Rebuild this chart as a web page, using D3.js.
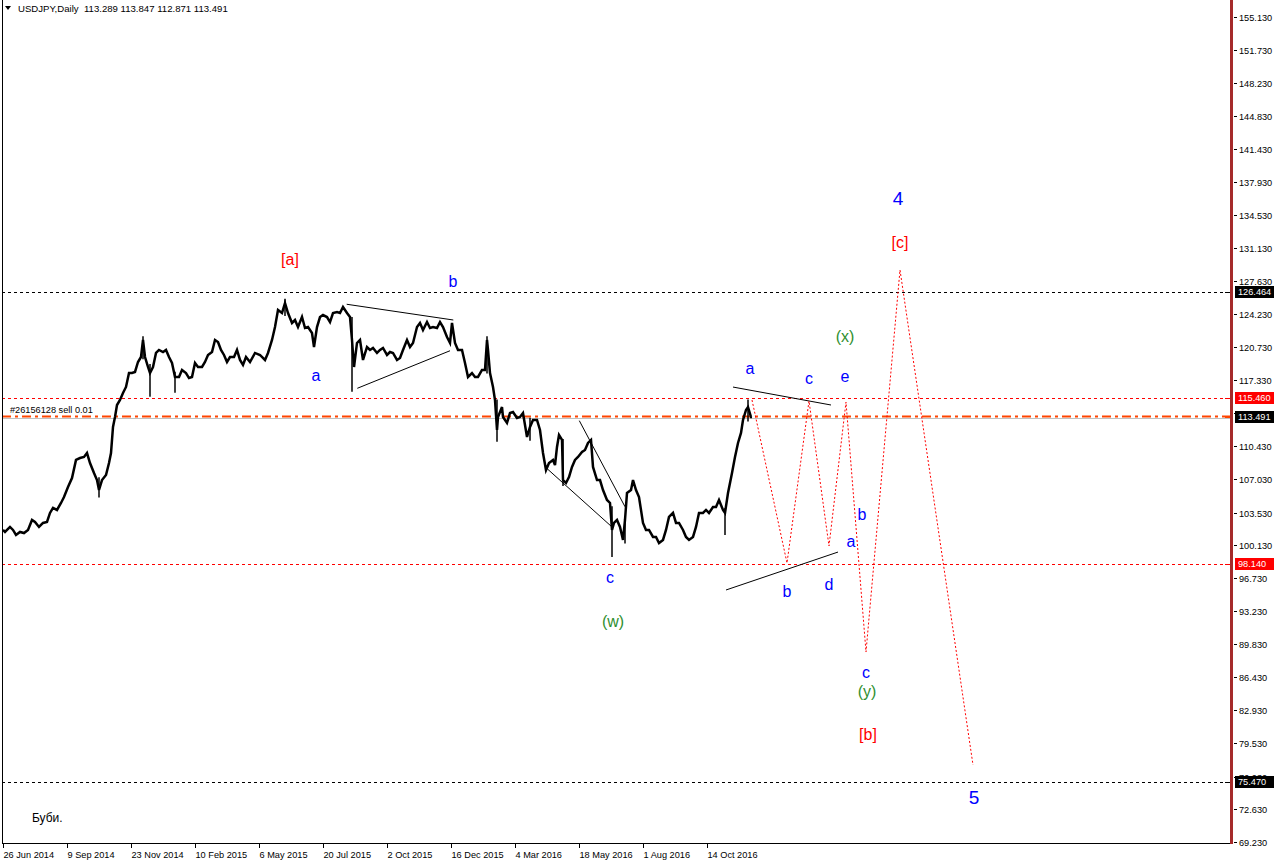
<!DOCTYPE html>
<html><head><meta charset="utf-8">
<script src="https://cdn.jsdelivr.net/npm/d3@7"></script>
<style>body{margin:0;background:#fff} svg{display:block}</style>
</head><body><svg id="c" width="1276" height="866"></svg>
<script>
// ---- data ----
const priceDays = [0,2,7,10,13,17,21,25,29,32,36,40,44,47,50,54,58,61,65,69,73,77,81,84,87,91,94,96,99,103,106,108,110,112,114,117,120,123,126,129,132,135,138,140,142,145,147,150,153,156,160,163,166,169,172,176,179,183,186,189,192,195,199,202,205,209,212,215,218,221,224,227,231,234,237,240,243,247,
252,257,262,265,269,272,275,279,282,285,289,292,295,299,302,305,309,311,314,317,320,324,327,330,334,337,340,344,347,349,351,354,357,360,364,367,370,374,377,380,384,387,390,394,397,400,404,407,410,414,417,420,424,427,430,434,437,440,444,447,449,452,455,459,462,465,469,472,475,479,482,484,485,487,490,492,494,495,499,
500,504,507,510,514,517,520,524,527,530,534,537,540,543,546,550,552,554,556,559,560,563,566,569,572,575,579,582,585,588,590,594,597,600,604,607,609,611,614,617,620,622,624,628,630,633,636,640,643,646,650,653,656,660,663,666,670,673,676,680,683,686,690,693,696,700,703,706,710,713,716,720,722,725,729,732,735,738,740,743,745,748,749];
const priceCloses = [101.72,101.51,102.03,101.72,101.20,101.51,101.40,101.72,102.76,102.55,102.03,102.45,102.55,103.49,104.01,103.80,104.53,105.15,106.19,107.13,109.01,109.21,109.32,109.73,108.69,107.65,106.92,105.88,106.92,107.44,108.69,109.73,112.44,113.48,114.73,115.25,115.98,116.61,118.06,118.06,118.17,119.21,119.73,121.50,119.73,118.69,118.06,118.69,120.15,120.46,120.25,120.46,119.73,119.10,117.65,117.65,118.38,118.06,117.54,117.65,119.10,118.69,118.69,119.21,119.94,120.25,121.50,121.29,120.46,119.94,119.21,119.73,119.73,120.46,119.42,118.90,119.73,119.21,
120.15,119.94,119.42,120.15,121.50,122.85,124.62,124.31,125.35,124.31,123.27,123.58,122.85,123.89,122.75,122.85,122.23,120.77,122.85,123.89,124.10,123.89,123.37,124.31,124.41,124.31,124.94,124.31,123.89,121.50,118.69,121.19,121.50,119.42,120.77,120.46,120.67,120.15,120.46,120.67,119.94,120.25,120.15,119.42,119.63,120.46,121.50,120.77,121.19,122.85,123.27,122.54,123.37,122.75,122.85,122.75,123.37,122.85,121.81,121.19,123.27,121.19,120.46,120.46,119.10,117.65,118.06,117.65,117.65,118.38,118.38,121.50,120.46,118.06,116.61,115.25,112.13,113.48,114.52,
113.48,112.86,113.90,114.00,113.38,113.48,113.90,111.40,112.44,113.17,113.17,112.13,109.73,107.96,108.69,109.01,108.48,110.36,111.61,111.09,106.92,106.61,107.23,108.28,109.01,109.32,109.84,110.05,110.78,111.09,108.28,106.92,106.92,105.88,104.84,104.53,101.72,102.45,102.76,102.03,100.68,102.76,105.57,105.88,106.92,105.88,105.15,102.45,101.72,101.72,100.99,100.99,100.36,100.68,101.72,103.07,103.49,102.45,102.45,101.72,100.99,100.68,100.99,102.03,103.49,103.49,103.80,103.49,104.11,104.11,104.84,103.80,103.49,105.57,107.65,109.32,110.78,111.82,113.17,114.21,114.52,113.48,113.49];

// notable daily high/low spikes
const spikeDays  = [96,140,147,172,282,349,484,494,527,560,609,622,722,745];
const spikeHighs = [107.2,121.9,119.0,118.2,125.8,123.9,121.9,115.3,113.4,111.2,104.2,103.0,104.0,115.3];
const spikeLows  = [105.1,119.5,115.6,116.0,124.0,116.1,118.0,110.9,111.0,106.3,98.9,100.3,101.2,113.0];

const dateTickDays   = [0,64,128,192,256,320,384,448,512,576,640,704];
const dateTickLabels = ["26 Jun 2014","9 Sep 2014","23 Nov 2014","10 Feb 2015","6 May 2015","20 Jul 2015","2 Oct 2015","16 Dec 2015","4 Mar 2016","18 May 2016","1 Aug 2016","14 Oct 2016"];

const priceTicks = [155.13,151.73,148.23,144.83,141.43,137.93,134.53,131.13,127.63,124.23,120.73,117.33,113.93,110.43,107.03,103.53,100.13,96.73,93.23,89.83,86.43,82.93,79.53,76.03,72.63,69.23];

const levelValues = [126.464, 115.460, 98.140, 75.470];
const levelKinds  = ["black","red","red","black"];
const orderPrice = 113.491;
const orderText = "#26156128 sell 0.01";
const titleText = "USDJPY,Daily  113.289 113.847 112.871 113.491";

// trendlines: [day1, price1, day2, price2]
const trendStartDays   = [343.7, 354.3, 543.7, 576.3, 730, 723];
const trendStartPrices = [125.22, 116.47, 108.14, 113.10, 116.60, 95.47];
const trendEndDays     = [450.3, 447, 608.7, 622, 828, 835];
const trendEndPrices   = [123.58, 120.38, 102.06, 104.14, 114.73, 99.42];

// projected path (red dotted)
const projDays   = [749, 784, 806, 826, 843, 863, 897, 970];
const projPrices = [115.25, 98.28, 115.15, 100.05, 115.04, 89.01, 128.79, 77.25];

// wave labels
const waveTexts   = ["[a]","b","a","c","(w)","a","c","e","(x)","4","[c]","b","a","b","d","c","(y)","[b]","5"];
const waveDays    = [287,450,313,607,610,747,806,842,842,895,897,859,848,784,826,863,864,865,971];
const wavePrices  = [129.83,127.64,117.85,96.72,92.14,118.48,117.54,117.65,121.91,136.28,131.60,103.28,100.57,95.36,96.09,86.83,84.95,80.47,73.91];
const waveDegrees = ["int","min","min","min","minor","min","min","min","minor","prim","int","min","min","min","min","min","minor","int","prim"];

const footerText = "Буби.";

// ---- styles ----
const degreeStyle = {
  prim:  {fill:"#0000ff", size:19},
  int:   {fill:"#ff0000", size:16},
  minor: {fill:"#2f8f2f", size:16},
  min:   {fill:"#0000ff", size:16}
};
const levelStyle = {
  black:{stroke:"#000", box:"#000"},
  red:  {stroke:"#ff0000", box:"#ff0000"}
};

const W = 1276, H = 866;
const plotL = 2, plotR = 1231, plotB = 843;
const svg = d3.select("#c");
const font = "'Liberation Sans', Arial, sans-serif";
const fs = 9.2;

const x = d3.scaleLinear().domain([0, 1228]).range([3, 1231]);
const y = d3.scaleLinear().domain([69.23, 155.13]).range([842, 17]);

svg.append("rect").attr("width",W).attr("height",H).attr("fill","#fff");

// level lines
levelValues.forEach((v,i)=>{
  svg.append("line").attr("x1",plotL).attr("x2",plotR)
    .attr("y1",Math.round(y(v))+0.5).attr("y2",Math.round(y(v))+0.5)
    .attr("stroke",levelStyle[levelKinds[i]].stroke).attr("stroke-width",1)
    .attr("stroke-dasharray","3,3");
});
// bid line & order line
const oy = Math.round(y(orderPrice));
svg.append("line").attr("x1",plotL).attr("x2",plotR).attr("y1",oy+1.5).attr("y2",oy+1.5)
  .attr("stroke","#c0c0c0").attr("stroke-width",1);
svg.append("line").attr("x1",plotL).attr("x2",plotR).attr("y1",oy-0.5).attr("y2",oy-0.5)
  .attr("stroke","#ff4500").attr("stroke-width",2).attr("stroke-dasharray","9,4,3,4");
svg.append("text").attr("x",10).attr("y",oy-4).attr("font-family",font).attr("font-size",fs)
  .attr("fill","#000").text(orderText);

// price series
const pts = priceDays.map((d,i)=>[d, priceCloses[i]]);
svg.append("path").datum(pts)
  .attr("d", d3.line().x(d=>x(d[0])).y(d=>y(d[1])))
  .attr("fill","none").attr("stroke","#000").attr("stroke-width",2.5).attr("stroke-linejoin","miter");
svg.selectAll(".spike").data(spikeDays).enter().append("line")
  .attr("x1",d=>x(d)).attr("x2",d=>x(d))
  .attr("y1",(d,i)=>y(spikeHighs[i])).attr("y2",(d,i)=>y(spikeLows[i]))
  .attr("stroke","#000").attr("stroke-width",1.5);

// trendlines
trendStartDays.forEach((d,i)=>{
  svg.append("line").attr("x1",x(d)).attr("y1",y(trendStartPrices[i]))
    .attr("x2",x(trendEndDays[i])).attr("y2",y(trendEndPrices[i]))
    .attr("stroke","#000").attr("stroke-width",1);
});

// projected path
svg.append("path").datum(projDays.map((d,i)=>[d,projPrices[i]]))
  .attr("d", d3.line().x(d=>x(d[0])).y(d=>y(d[1])))
  .attr("fill","none").attr("stroke","#ff0000").attr("stroke-width",1).attr("stroke-dasharray","2,2");

// wave labels
waveTexts.forEach((t,i)=>{
  const s = degreeStyle[waveDegrees[i]];
  svg.append("text").attr("x",x(waveDays[i])).attr("y",y(wavePrices[i]))
    .attr("text-anchor","middle").attr("dominant-baseline","central")
    .attr("font-family","Arial, 'Liberation Sans', sans-serif").attr("font-size",s.size)
    .attr("fill",s.fill).text(t);
});

// frame: left and bottom
svg.append("line").attr("x1",plotL+0.5).attr("x2",plotL+0.5).attr("y1",0).attr("y2",plotB).attr("stroke","#000");
svg.append("line").attr("x1",plotL).attr("x2",plotR).attr("y1",plotB+0.5).attr("y2",plotB+0.5).attr("stroke","#000");
// right axis bar
svg.append("rect").attr("x",1230).attr("y",0).attr("width",3).attr("height",plotB+1).attr("fill","#a52a2a");

// right axis ticks
const ya = svg.append("g");
priceTicks.forEach(v=>{
  const yy = Math.round(y(v))+0.5;
  ya.append("line").attr("x1",1234).attr("x2",1237).attr("y1",yy).attr("y2",yy).attr("stroke","#000");
  ya.append("text").attr("x",1239).attr("y",yy).attr("dominant-baseline","central")
    .attr("font-family",font).attr("font-size",fs).attr("fill","#000").text(v.toFixed(3));
});
// level boxes
const boxVals = levelValues.concat([orderPrice]);
const boxKinds = levelKinds.concat(["black"]);
boxVals.forEach((v,i)=>{
  const yy = Math.round(y(v));
  const col = levelStyle[boxKinds[i]].box;
  svg.append("line").attr("x1",1225).attr("x2",1230).attr("y1",yy+0.5).attr("y2",yy+0.5)
    .attr("stroke", i===4 ? "#ff4500" : col);
  svg.append("rect").attr("x",1235).attr("y",yy-6).attr("width",39).attr("height",12).attr("fill",col);
  svg.append("text").attr("x",1238).attr("y",yy).attr("dominant-baseline","central")
    .attr("font-family",font).attr("font-size",fs).attr("fill","#fff").text(v.toFixed(3));
});

// bottom axis
dateTickDays.forEach((d,i)=>{
  const xx = Math.round(x(d))+0.5;
  svg.append("line").attr("x1",xx).attr("x2",xx).attr("y1",plotB).attr("y2",plotB+5).attr("stroke","#000");
  svg.append("text").attr("x",xx).attr("y",858).attr("font-family",font).attr("font-size",fs)
    .attr("fill","#000").text(dateTickLabels[i]);
});

// title
svg.append("path").attr("d","M5,6 L11,6 L8,10 Z").attr("fill","#000");
svg.append("text").attr("x",18).attr("y",12).attr("font-family",font).attr("font-size",9.6)
  .attr("fill","#000").attr("xml:space","preserve").style("white-space","pre").text(titleText);

svg.append("text").attr("x",32).attr("y",822).attr("font-family",font).attr("font-size",12)
  .attr("fill","#000").text(footerText);
</script>
</body></html>
